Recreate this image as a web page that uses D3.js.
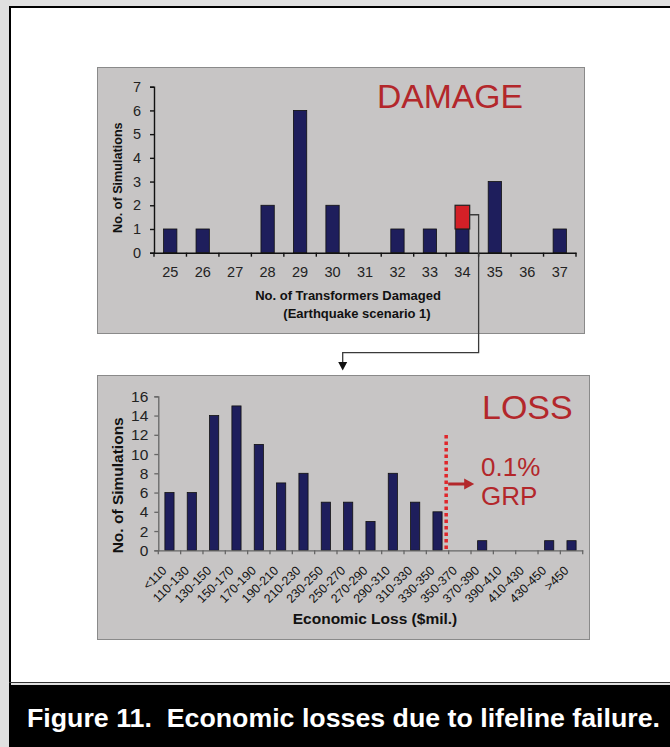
<!DOCTYPE html>
<html>
<head>
<meta charset="utf-8">
<script src="https://cdn.jsdelivr.net/npm/d3@7"></script>
<style>
  html, body { margin: 0; padding: 0; background: #e0e0e0; }
  svg { display: block; }
  text { font-family: "Liberation Sans", Arial, Helvetica, sans-serif; }
</style>
</head>
<body>
<svg id="fig" width="670" height="747"></svg>
<script>
// ---------- data ----------
const damageCats = ["25","26","27","28","29","30","31","32","33","34","35","36","37"];
const damageVals = [1, 1, 0, 2, 6, 2, 0, 1, 1, 1, 3, 0, 1];
const damageTicks = [0, 1, 2, 3, 4, 5, 6, 7];
const highlightCat = "34";
const highlightRange = [1, 2];

const lossCats = ["<110","110-130","130-150","150-170","170-190","190-210","210-230","230-250",
  "250-270","270-290","290-310","310-330","330-350","350-370","370-390","390-410","410-430","430-450",">450"];
const lossVals = [6, 6, 14, 15, 11, 7, 8, 5, 5, 3, 8, 5, 4, 0, 1, 0, 0, 1, 1];
const lossTicks = [0, 2, 4, 6, 8, 10, 12, 14, 16];
const thresholdCat = "350-370";

const caption = "Figure 11.  Economic losses due to lifeline failure.";

// ---------- drawing ----------
const svg = d3.select("#fig");
const W = 670, H = 747;
const barColor = "#1e1e5c";
const panelFill = "#c7c5c5";
const red = "#b3272b";
const FONT = "Liberation Sans, Arial, sans-serif";

// page frame
svg.append("rect").attr("x", 0).attr("y", 0).attr("width", W).attr("height", H).attr("fill", "#e0e0e0");
svg.append("rect").attr("x", 9).attr("y", 7).attr("width", W - 9).attr("height", 676).attr("fill", "#fff");
svg.append("line").attr("x1", 9).attr("x2", W).attr("y1", 7).attr("y2", 7).attr("stroke", "#000").attr("stroke-width", 2);
svg.append("line").attr("x1", 10).attr("x2", 10).attr("y1", 6).attr("y2", H).attr("stroke", "#000").attr("stroke-width", 2);
svg.append("line").attr("x1", 9).attr("x2", W).attr("y1", 682.5).attr("y2", 682.5).attr("stroke", "#333").attr("stroke-width", 1);
svg.append("rect").attr("x", 9).attr("y", 685).attr("width", W - 9).attr("height", H - 685).attr("fill", "#000");
svg.append("text").attr("x", 27).attr("y", 727).attr("fill", "#fff")
  .attr("font-size", 26).attr("font-weight", "bold")
  .style("white-space", "pre")
  .attr("textLength", 633).attr("lengthAdjust", "spacingAndGlyphs")
  .text(caption);

// ---------- top chart: DAMAGE ----------
svg.append("rect").attr("x", 97.5).attr("y", 67.5).attr("width", 487).attr("height", 266)
  .attr("fill", panelFill).attr("stroke", "#8a8a8a").attr("stroke-width", 1);

const x1 = d3.scaleBand().domain(damageCats).range([154, 576]).padding(0);
const y1 = d3.scaleLinear().domain([0, 7]).range([252.7, 86.7]);
const g1 = svg.append("g");

const bw1 = x1.bandwidth() * 0.41;
g1.selectAll("rect.bar").data(damageCats).join("rect").attr("class", "bar")
  .attr("x", d => x1(d) + (x1.bandwidth() - bw1) / 2)
  .attr("y", (d, i) => y1(damageVals[i]))
  .attr("width", bw1)
  .attr("height", (d, i) => y1(0) - y1(damageVals[i]))
  .attr("fill", barColor).attr("stroke", "#111").attr("stroke-width", 0.8);

// highlight box
const hbw = x1.bandwidth() * 0.45;
g1.append("rect")
  .attr("x", x1(highlightCat) + (x1.bandwidth() - hbw) / 2)
  .attr("y", y1(highlightRange[1]))
  .attr("width", hbw)
  .attr("height", y1(highlightRange[0]) - y1(highlightRange[1]))
  .attr("fill", "#d42027").attr("stroke", "#222").attr("stroke-width", 1.2);

// y axis
const ay1 = g1.append("g").attr("transform", `translate(${x1.range()[0]},0)`)
  .call(d3.axisLeft(y1).tickValues(damageTicks).tickSize(4).tickPadding(9).tickFormat(d3.format("d")));
ay1.select(".domain").attr("stroke", "#111").attr("stroke-width", 1.4);
ay1.selectAll(".tick line").attr("stroke", "#111").attr("stroke-width", 1.4);
ay1.selectAll("text").attr("font-size", 14.5).attr("fill", "#222").attr("font-family", FONT);

// x axis (ticks at category boundaries)
const ax1 = g1.append("g").attr("transform", `translate(0,${y1(0)})`)
  .call(d3.axisBottom(x1).tickSize(0).tickPadding(14));
ax1.select(".domain").attr("stroke", "#111").attr("stroke-width", 1.4);
ax1.selectAll("text").attr("font-size", 14.5).attr("fill", "#222").attr("font-family", FONT);
const bounds1 = d3.range(damageCats.length + 1).map(i => x1.range()[0] + i * x1.step());
g1.selectAll("line.btick").data(bounds1).join("line").attr("class", "btick")
  .attr("x1", d => d).attr("x2", d => d).attr("y1", y1(0)).attr("y2", y1(0) + 4)
  .attr("stroke", "#111").attr("stroke-width", 1.4);

g1.append("text").attr("transform", `translate(122,${(y1(0) + y1(7)) / 2 + 8}) rotate(-90)`)
  .attr("text-anchor", "middle").attr("font-size", 12.6).attr("font-weight", "bold").attr("fill", "#111")
  .text("No. of Simulations");
g1.append("text").attr("x", 348).attr("y", 300).attr("text-anchor", "middle")
  .attr("font-size", 13).attr("font-weight", "bold").attr("fill", "#111").text("No. of Transformers Damaged");
g1.append("text").attr("x", 357).attr("y", 317.5).attr("text-anchor", "middle")
  .attr("font-size", 13).attr("font-weight", "bold").attr("fill", "#111").text("(Earthquake scenario 1)");
g1.append("text").attr("x", 377).attr("y", 107.5).attr("font-size", 34).attr("fill", red)
  .attr("textLength", 146).attr("lengthAdjust", "spacingAndGlyphs").text("DAMAGE");

// connector from highlight to loss chart
const cx0 = x1(highlightCat) + (x1.bandwidth() + hbw) / 2;
const cy0 = y1(1.6);
const cxv = x1.range()[0] + (damageCats.indexOf(highlightCat) + 1) * x1.step();
const cyh = 352.7, cxa = 342.7;
svg.append("path").attr("d", `M${cx0},${cy0}H${cxv}V${cyh}H${cxa}V363`)
  .attr("fill", "none").attr("stroke", "#3a3a3a").attr("stroke-width", 1.3);
svg.append("path").attr("d", `M${cxa - 4.5},362 L${cxa + 4.5},362 L${cxa},370.5 Z`).attr("fill", "#111");

// ---------- bottom chart: LOSS ----------
svg.append("rect").attr("x", 97.5).attr("y", 375.5).attr("width", 492).attr("height", 264)
  .attr("fill", panelFill).attr("stroke", "#8a8a8a").attr("stroke-width", 1);

const x2 = d3.scaleBand().domain(lossCats).range([158.3, 582.7]).padding(0);
const y2 = d3.scaleLinear().domain([0, 16]).range([550.3, 396.3]);
const g2 = svg.append("g");

const bw2 = x2.bandwidth() * 0.41;
g2.selectAll("rect.bar").data(lossCats).join("rect").attr("class", "bar")
  .attr("x", d => x2(d) + (x2.bandwidth() - bw2) / 2)
  .attr("y", (d, i) => y2(lossVals[i]))
  .attr("width", bw2)
  .attr("height", (d, i) => y2(0) - y2(lossVals[i]))
  .attr("fill", barColor).attr("stroke", "#111").attr("stroke-width", 0.8);

const ay2 = g2.append("g").attr("transform", `translate(${x2.range()[0]},0)`)
  .call(d3.axisLeft(y2).tickValues(lossTicks).tickSize(4).tickPadding(6).tickFormat(d3.format("d")));
ay2.select(".domain").attr("stroke", "#666").attr("stroke-width", 1.3);
ay2.selectAll(".tick line").attr("stroke", "#666").attr("stroke-width", 1.3);
ay2.selectAll("text").attr("font-size", 15.5).attr("fill", "#222").attr("font-family", FONT);

const ax2 = g2.append("g").attr("transform", `translate(0,${y2(0)})`)
  .call(d3.axisBottom(x2).tickSize(0).tickPadding(0));
ax2.select(".domain").attr("stroke", "#666").attr("stroke-width", 1.3);
ax2.selectAll("text")
  .attr("font-size", 12.5).attr("fill", "#111").attr("font-family", FONT)
  .attr("text-anchor", "end").attr("dy", null).attr("y", 0)
  .attr("transform", "translate(-2,21) rotate(-45)");
const bounds2 = d3.range(lossCats.length + 1).map(i => x2.range()[0] + i * x2.step());
g2.selectAll("line.btick").data(bounds2).join("line").attr("class", "btick")
  .attr("x1", d => d).attr("x2", d => d).attr("y1", y2(0)).attr("y2", y2(0) + 4)
  .attr("stroke", "#666").attr("stroke-width", 1.3);

g2.append("text").attr("transform", `translate(123,${(y2(0) + y2(16)) / 2 + 12}) rotate(-90)`)
  .attr("text-anchor", "middle").attr("font-size", 15.5).attr("font-weight", "bold").attr("fill", "#111")
  .text("No. of Simulations");
g2.append("text").attr("x", 375).attr("y", 624).attr("text-anchor", "middle")
  .attr("font-size", 15.5).attr("font-weight", "bold").attr("fill", "#111").text("Economic Loss ($mil.)");

// threshold dotted line
const tx = x2(thresholdCat) - 2.5;
g2.append("line").attr("x1", tx).attr("x2", tx).attr("y1", 435).attr("y2", y2(0) + 1)
  .attr("stroke", "#e0262b").attr("stroke-width", 3.5).attr("stroke-dasharray", "3.5,3");
g2.append("line").attr("x1", tx + 2).attr("x2", tx + 20).attr("y1", 484).attr("y2", 484)
  .attr("stroke", red).attr("stroke-width", 3);
g2.append("path").attr("d", `M${tx + 18},478.5 L${tx + 28},484 L${tx + 18},489.5 Z`).attr("fill", red);

g2.append("text").attr("x", 482).attr("y", 418.5).attr("font-size", 34).attr("fill", red).text("LOSS");
g2.append("text").attr("x", 481).attr("y", 476).attr("font-size", 26).attr("fill", red).text("0.1%");
g2.append("text").attr("x", 481).attr("y", 505).attr("font-size", 26).attr("fill", red).text("GRP");
</script>
</body>
</html>
